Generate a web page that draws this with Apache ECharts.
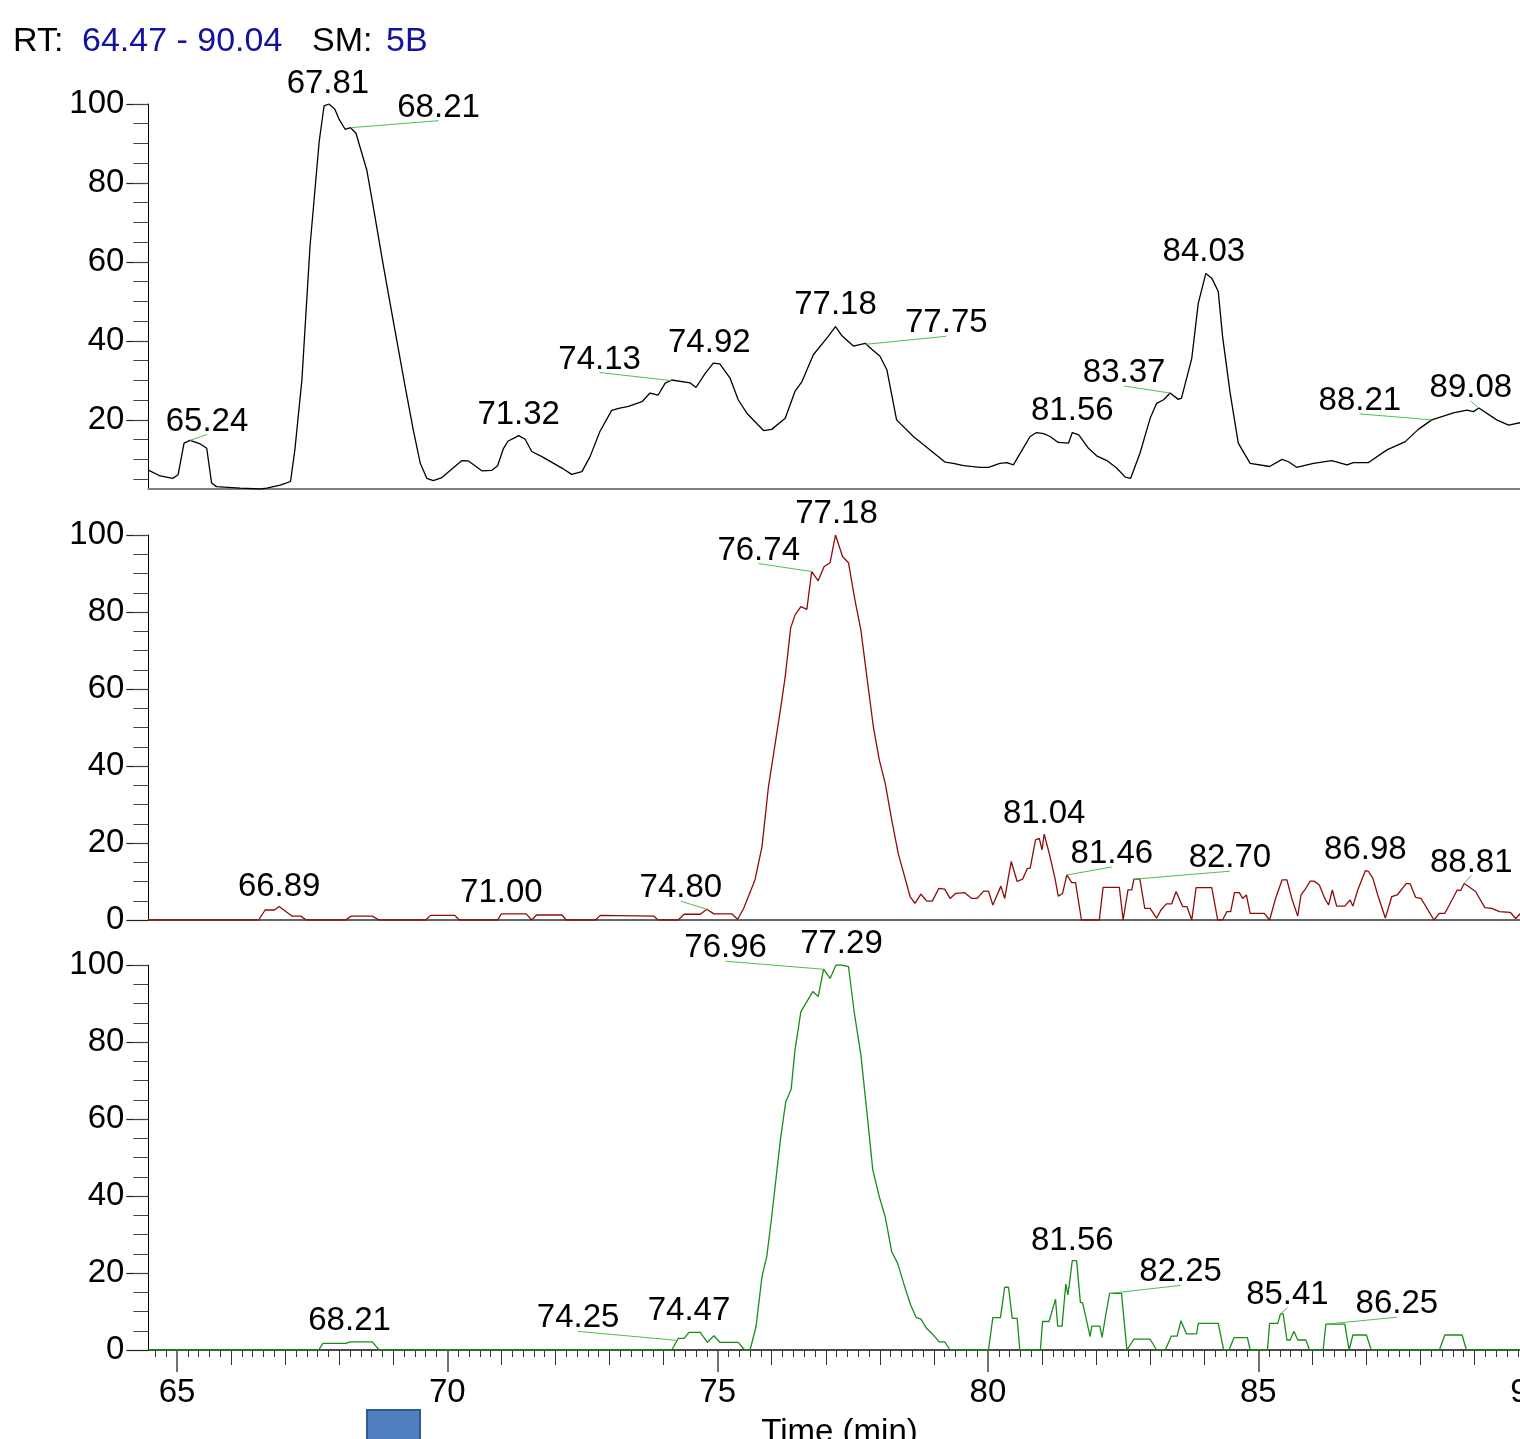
<!DOCTYPE html>
<html><head><meta charset="utf-8">
<script src="https://cdn.jsdelivr.net/npm/echarts@6/dist/echarts.min.js"></script>
<style>html,body{margin:0;padding:0;background:#fff;overflow:hidden}#c{width:1520px;height:1439px;}</style>
</head><body><div id="c"></div>
<script>
// ---------- data ----------
const rtRange = [64.47, 90.04];
const smoothing = '5B';
const xTickLabels = [65, 70, 75, 80, 85, 90];
const yTickLabelsTop = [20, 40, 60, 80, 100];
const yTickLabels = [0, 20, 40, 60, 80, 100];
const xAxisTitle = 'Time (min)';

// trace 1 (black) [time, relative abundance]
const trace1 = [[64.47,7.3],[64.69,5.8],[64.92,5.2],[65.02,6.1],[65.13,14.1],[65.24,14.8],[65.43,13.9],[65.55,12.8],[65.64,4.0],[65.73,3.1],[66.17,2.7],[66.54,2.5],[66.66,2.7],[66.91,3.5],[67.10,4.4],[67.18,12.4],[67.31,30.1],[67.46,63.9],[67.63,90.5],[67.72,99.5],[67.81,100],[67.92,98.7],[68.00,96.1],[68.11,93.6],[68.21,94.0],[68.31,92.6],[68.51,83.3],[68.63,74.0],[68.82,58.8],[69.03,42.8],[69.22,28.4],[69.37,17.5],[69.50,9.0],[69.62,5.2],[69.74,4.6],[69.90,5.4],[70.27,9.7],[70.39,9.6],[70.64,7.1],[70.82,7.2],[70.93,8.4],[71.04,12.8],[71.12,14.6],[71.25,15.5],[71.32,16.0],[71.44,15.1],[71.56,12.0],[71.75,10.7],[72.12,7.8],[72.30,6.2],[72.49,6.9],[72.64,10.7],[72.82,17.0],[73.04,22.4],[73.19,23.0],[73.35,23.4],[73.60,24.6],[73.75,26.8],[73.90,26.3],[74.03,29.3],[74.15,30.1],[74.49,29.4],[74.60,28.2],[74.77,31.8],[74.92,34.4],[75.04,34.2],[75.23,30.6],[75.38,25.1],[75.54,21.7],[75.75,18.7],[75.85,17.3],[76.00,17.6],[76.25,20.4],[76.43,27.2],[76.56,29.7],[76.77,36.5],[77.02,40.7],[77.18,43.6],[77.30,41.3],[77.51,38.7],[77.73,39.4],[77.85,37.9],[78.00,36.2],[78.13,32.7],[78.31,20.0],[78.62,15.8],[78.93,12.4],[79.21,9.3],[79.36,9.0],[79.55,8.4],[79.85,8.0],[80.01,8.0],[80.22,9.0],[80.35,9.2],[80.47,8.6],[80.56,10.7],[80.78,15.8],[80.90,16.8],[81.03,16.5],[81.15,15.8],[81.30,14.3],[81.49,14.1],[81.56,16.8],[81.68,16.2],[81.86,12.8],[82.01,10.9],[82.20,9.7],[82.38,7.8],[82.54,5.5],[82.64,5.2],[82.81,11.5],[83.00,20.4],[83.12,24.2],[83.25,25.1],[83.37,26.8],[83.52,25.2],[83.58,25.5],[83.77,35.6],[83.89,49.5],[84.03,57.1],[84.14,55.9],[84.26,52.5],[84.34,41.1],[84.48,26.8],[84.63,14.1],[84.85,9.0],[85.21,8.2],[85.44,10.0],[85.56,9.4],[85.71,8.0],[86.02,9.0],[86.36,9.7],[86.64,8.6],[86.76,9.2],[87.04,9.2],[87.38,12.4],[87.72,14.5],[87.96,17.6],[88.21,20.0],[88.61,21.8],[88.86,22.5],[88.98,22.1],[89.08,23.0],[89.41,20.0],[89.63,18.7],[89.85,19.3],[90.04,19.6]];

// trace 2 (dark red)
const trace2 = [[64.47,0],[66.51,0],[66.63,2.6],[66.80,2.6],[66.89,3.5],[67.13,1.0],[67.29,1.0],[67.39,0],[68.12,0],[68.22,1.0],[68.61,1.0],[68.74,0],[69.60,0],[69.69,1.2],[70.14,1.2],[70.22,0],[70.93,0],[71.00,1.6],[71.46,1.6],[71.56,0],[71.65,1.3],[72.12,1.3],[72.20,0],[72.74,0],[72.83,1.2],[73.82,1.0],[73.90,0],[74.27,0],[74.38,1.5],[74.68,1.5],[74.80,2.8],[74.93,1.6],[75.26,1.6],[75.37,0.2],[75.48,3.0],[75.69,10.4],[75.82,19.0],[75.94,34.6],[76.16,54.5],[76.25,63.2],[76.35,75.8],[76.43,79.2],[76.54,81.4],[76.65,80.7],[76.74,90.5],[76.86,88.1],[76.97,91.8],[77.08,92.8],[77.18,100],[77.31,94.4],[77.42,92.8],[77.54,83.1],[77.65,75.3],[77.76,63.2],[77.88,50.2],[77.99,41.6],[78.10,35.5],[78.22,26.0],[78.34,17.3],[78.56,6.1],[78.65,4.3],[78.76,6.7],[78.87,4.9],[78.97,4.9],[79.09,8.2],[79.20,8.0],[79.30,5.6],[79.40,6.9],[79.57,7.1],[79.70,5.6],[79.80,5.6],[79.92,7.5],[80.01,7.5],[80.09,3.9],[80.24,8.8],[80.31,5.6],[80.43,15.2],[80.54,10.0],[80.64,10.6],[80.73,13.4],[80.78,13.4],[80.88,20.8],[80.95,21.2],[81.00,18.2],[81.04,22.3],[81.14,16.9],[81.24,10.8],[81.30,6.2],[81.38,6.9],[81.46,11.7],[81.55,9.7],[81.62,9.7],[81.73,0],[82.06,0],[82.13,8.5],[82.43,8.5],[82.50,0],[82.59,7.8],[82.66,7.8],[82.70,10.6],[82.81,10.6],[82.90,3.0],[83.00,3.0],[83.12,0.5],[83.20,2.6],[83.30,4.2],[83.40,4.2],[83.48,7.4],[83.60,3.5],[83.68,3.5],[83.77,0],[83.85,8.4],[84.14,8.4],[84.25,0],[84.34,0],[84.42,2.2],[84.49,2.2],[84.56,7.1],[84.65,7.1],[84.71,5.6],[84.78,6.5],[84.85,1.7],[85.11,1.7],[85.21,0],[85.32,5.6],[85.44,10.4],[85.53,10.4],[85.62,5.6],[85.73,1.0],[85.79,6.5],[85.86,7.8],[85.96,10.1],[86.03,10.1],[86.13,9.1],[86.23,5.6],[86.30,3.9],[86.37,7.8],[86.45,3.6],[86.60,3.6],[86.70,5.2],[86.75,3.6],[86.84,7.8],[86.98,12.8],[87.04,12.6],[87.12,10.8],[87.21,6.5],[87.35,0.5],[87.47,6.1],[87.57,6.5],[87.74,9.5],[87.81,9.4],[87.91,5.9],[88.01,5.6],[88.25,0],[88.35,1.7],[88.45,1.7],[88.68,7.8],[88.74,7.6],[88.81,9.5],[89.02,7.4],[89.19,3.2],[89.32,3.0],[89.46,2.2],[89.66,2.0],[89.76,0.4],[89.85,1.7],[90.04,1.2]];

// trace 3 (green)
const trace3 = [[64.47,0],[67.62,0],[67.70,1.7],[68.12,1.7],[68.20,2.1],[68.61,2.1],[68.74,0],[74.15,0],[74.27,3.0],[74.38,3.0],[74.47,4.6],[74.68,4.6],[74.81,2.0],[74.93,3.7],[75.04,2.0],[75.38,2.0],[75.50,0],[75.60,0],[75.71,6.1],[75.82,19.0],[75.91,24.4],[76.00,34.6],[76.16,54.5],[76.26,64.5],[76.36,67.7],[76.43,77.9],[76.54,87.9],[76.65,90.5],[76.76,93.1],[76.86,91.8],[76.96,98.9],[77.08,96.5],[77.19,100],[77.29,100],[77.42,99.6],[77.53,87.4],[77.65,76.6],[77.76,61.9],[77.87,46.8],[77.99,39.8],[78.10,34.6],[78.22,25.5],[78.33,22.5],[78.45,16.9],[78.57,11.7],[78.67,8.5],[78.76,8.0],[78.87,5.5],[78.97,4.2],[79.10,2.1],[79.20,2.1],[79.30,0],[80.01,0],[80.09,8.4],[80.23,8.4],[80.31,16.3],[80.38,16.3],[80.45,8.2],[80.54,8.2],[80.59,0],[80.97,0],[81.01,7.4],[81.13,7.4],[81.25,13.2],[81.29,6.2],[81.37,6.2],[81.44,17.1],[81.48,14.3],[81.56,23.2],[81.64,23.2],[81.71,12.3],[81.75,12.3],[81.89,3.5],[81.92,6.2],[82.07,6.2],[82.11,3.3],[82.19,10.0],[82.25,14.7],[82.47,14.7],[82.57,0],[82.70,2.8],[83.00,2.8],[83.12,0],[83.28,0],[83.39,3.6],[83.50,3.6],[83.57,7.6],[83.67,4.2],[83.86,4.2],[83.89,6.9],[84.26,6.9],[84.36,0],[84.46,0],[84.55,3.2],[84.80,3.2],[84.85,0],[85.17,0],[85.21,6.9],[85.36,6.9],[85.41,9.4],[85.46,9.4],[85.53,2.6],[85.59,2.6],[85.66,4.9],[85.73,2.6],[85.88,2.6],[85.95,0],[86.20,0],[86.25,6.7],[86.60,6.7],[86.68,0],[86.75,3.9],[87.00,3.9],[87.09,0],[88.35,0],[88.45,3.9],[88.77,3.9],[88.85,0],[90.04,0]];

// labelled peak retention times
const peaks1 = [65.24, 67.81, 68.21, 71.32, 74.13, 74.92, 77.18, 77.75, 81.56, 83.37, 84.03, 88.21, 89.08];
const peaks2 = [66.89, 71.00, 74.80, 76.74, 77.18, 81.04, 81.46, 82.70, 86.98, 88.81];
const peaks3 = [68.21, 74.25, 74.47, 76.96, 77.29, 81.56, 82.25, 85.41, 86.25];

// ---------- layout (pixel offsets of peak labels from their peaks) ----------
const labelOffsets1 = [[17,-19],[-1,-20],[88,-20],[0,-21],[-71,-21],[-4,-20],[0,-22],[80,-21],[0,-22],[-46,-20],[-2,-21],[-72,-19],[-8,-20]];
const labelOffsets2 = [[0,-20],[0,-21],[-26,-21],[-53,-21],[1,-21],[0,-20],[45,-21],[96,-21],[0,-21],[7,-21]];
const labelOffsets3 = [[-1,-21],[-99,-22],[0,-21],[-98,-21],[0,-21],[0,-20],[71,-21],[7,-19],[71,-20]];

const FONT_FAMILY = '"Liberation Sans", Arial, sans-serif';
const FS = 33;

function interp(tr, t) {
  for (let i = 0; i < tr.length - 1; i++) {
    if (tr[i][0] <= t && tr[i + 1][0] >= t) {
      const f = (t - tr[i][0]) / (tr[i + 1][0] - tr[i][0] || 1);
      return tr[i][1] + f * (tr[i + 1][1] - tr[i][1]);
    }
  }
  return 0;
}

// tick positions
const ticksMajor = xTickLabels.slice();
const ticksMin1 = [];
for (let m = 65; m <= 90; m++) if (m % 5 !== 0) ticksMin1.push(m);
const ticksMin02 = [];
for (let k = 323; k <= 450; k++) if (k % 5 !== 0) ticksMin02.push(k / 5);
function yMinor(from) { const a = []; for (let v = from; v <= 100; v += 5) a.push(v); return a; }

const GL = 148.35, GW = 1382.4;
const grids = [
  { left: GL, top: 104, width: GW, height: 385 },
  { left: GL, top: 535, width: GW, height: 385 },
  { left: GL, top: 965, width: GW, height: 385 }
].map(g => Object.assign(g, { containLabel: false, outerBoundsMode: 'none' }));

function baseX(gi, extra) {
  return Object.assign({
    type: 'value', gridIndex: gi, min: rtRange[0], max: rtRange[1], position: 'bottom',
    splitLine: { show: false }, axisLabel: { show: false }, axisTick: { show: false },
    axisLine: { show: false, onZero: false }, axisPointer: { show: false }
  }, extra);
}
const xAxes = [
  baseX(0, { axisLine: { show: true, onZero: false, lineStyle: { color: '#808080', width: 2 } } }),
  baseX(1, { axisLine: { show: true, onZero: false, lineStyle: { color: '#666', width: 2 } } }),
  baseX(2, {
    axisLine: { show: true, onZero: false, lineStyle: { color: '#111', width: 1.5 } },
    axisTick: { show: true, customValues: ticksMajor, length: 22, lineStyle: { color: '#444', width: 1.5 } },
    axisLabel: { show: true, customValues: xTickLabels, fontSize: FS, fontFamily: FONT_FAMILY, color: '#000', margin: 26 },
    name: xAxisTitle, nameLocation: 'middle', nameGap: 66,
    nameTextStyle: { fontSize: FS, fontFamily: FONT_FAMILY, color: '#000' }
  }),
  baseX(2, { axisTick: { show: true, customValues: ticksMin1, length: 15, lineStyle: { color: '#333', width: 1 } } }),
  baseX(2, { axisTick: { show: true, customValues: ticksMin02, length: 7, lineStyle: { color: '#333', width: 1 } } })
];

function yPair(gi, min, labels, minorFrom) {
  return [
    {
      type: 'value', gridIndex: gi, min: min, max: 100, position: 'left',
      splitLine: { show: false },
      axisLine: { show: true, onZero: false, lineStyle: { color: '#000', width: 1 } },
      axisTick: { show: true, customValues: labels, length: 22, lineStyle: { color: '#222', width: 1.2 } },
      axisLabel: { show: true, customValues: labels, fontSize: FS, fontFamily: FONT_FAMILY, color: '#000', margin: 24, padding: [4, 0, 0, 0] }
    },
    {
      type: 'value', gridIndex: gi, min: min, max: 100, position: 'left',
      splitLine: { show: false }, axisLine: { show: false, onZero: false },
      axisTick: { show: true, customValues: yMinor(minorFrom), length: 15, lineStyle: { color: '#444', width: 1 } },
      axisLabel: { show: false }
    }
  ];
}
const yAxes = [].concat(yPair(0, 2.5, yTickLabelsTop, 5), yPair(1, 0, yTickLabels, 5), yPair(2, 0, yTickLabels, 5));

const traces = [trace1, trace2, trace3];
const colors = ['#000000', '#8e0b0b', '#1a8c1a'];
const peaks = [peaks1, peaks2, peaks3];
const offs = [labelOffsets1, labelOffsets2, labelOffsets3];

const series = [];
traces.forEach((tr, i) => {
  series.push({
    type: 'line', xAxisIndex: i, yAxisIndex: 2 * i, data: tr, symbol: 'none', showSymbol: false,
    lineStyle: { color: colors[i], width: 1.3 }, animation: false, silent: true, z: 3, clip: true
  });
  series.push({
    type: 'custom', xAxisIndex: i, yAxisIndex: 2 * i, clip: false, silent: true, z: 5, animation: false,
    data: peaks[i].map((t, j) => [t, interp(tr, t), offs[i][j][0], offs[i][j][1]]),
    encode: { x: 0, y: 1 },
    renderItem: function (params, api) {
      const t = api.value(0);
      const p = api.coord([t, api.value(1)]);
      const dx = api.value(2), dy = api.value(3);
      const cx = p[0] + dx, cy = p[1] + dy;
      const children = [];
      if (Math.abs(dx) >= 5) {
        children.push({ type: 'line', shape: { x1: p[0], y1: p[1], x2: cx, y2: cy + 13 },
          style: { stroke: '#4cc24c', lineWidth: 1 } });
      }
      children.push({ type: 'text', x: cx, y: cy,
        style: { text: t.toFixed(2), fill: '#000', fontSize: FS, fontFamily: FONT_FAMILY,
          align: 'center', verticalAlign: 'middle' } });
      return { type: 'group', children: children };
    }
  });
});

const titleFont = { fontSize: 34, fontFamily: FONT_FAMILY };
const TY = 42;
const graphics = [
  { type: 'text', x: 13, y: TY, style: Object.assign({ text: 'RT:', fill: '#000', verticalAlign: 'middle' }, titleFont) },
  { type: 'text', x: 82, y: TY, style: Object.assign({ text: rtRange[0].toFixed(2) + ' - ' + rtRange[1].toFixed(2), fill: '#1212a0', verticalAlign: 'middle' }, titleFont) },
  { type: 'text', x: 312, y: TY, style: Object.assign({ text: 'SM:', fill: '#000', verticalAlign: 'middle' }, titleFont) },
  { type: 'text', x: 386, y: TY, style: Object.assign({ text: smoothing, fill: '#1212a0', verticalAlign: 'middle' }, titleFont) },
  { type: 'rect', shape: { x: 367, y: 1410, width: 53, height: 40 },
    style: { fill: '#4f7fbf', stroke: '#2f5a92', lineWidth: 2 } }
];

const chart = echarts.init(document.getElementById('c'), null, { renderer: 'canvas' });
chart.setOption({
  backgroundColor: '#ffffff',
  animation: false,
  grid: grids,
  xAxis: xAxes,
  yAxis: yAxes,
  series: series,
  graphic: graphics
});
</script>
</body></html>
